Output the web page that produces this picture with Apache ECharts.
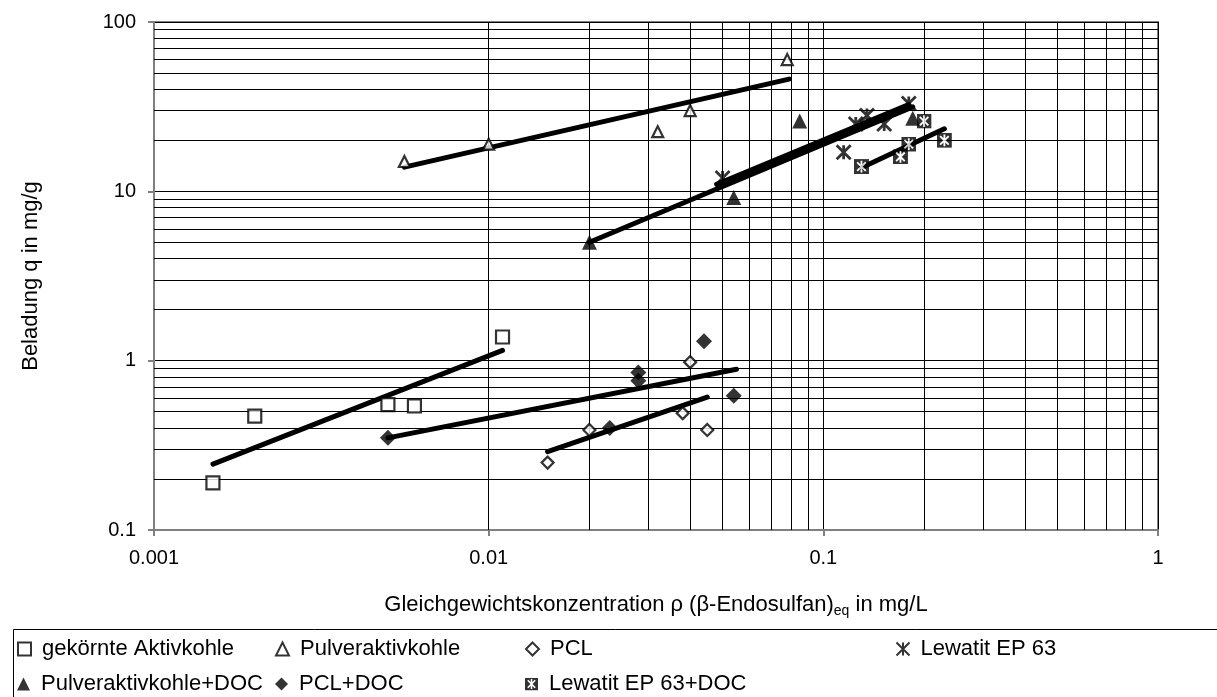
<!DOCTYPE html>
<html>
<head>
<meta charset="utf-8">
<script src="https://cdn.jsdelivr.net/npm/echarts@6/dist/echarts.min.js"></script>
<style>
  html, body { margin: 0; padding: 0; background: #fff; }
  #chart { width: 1217px; height: 697px; }
</style>
</head>
<body>
<div id="chart"></div>
<script>
// Adsorption isotherms of beta-endosulfan: measured points and power-law fits
const names = [
  'gekörnte Aktivkohle', 'Pulveraktivkohle', 'PCL', 'Lewatit EP 63',
  'Pulveraktivkohle+DOC', 'PCL+DOC', 'Lewatit EP 63+DOC'
];

// measured points (x: mg/L, y: mg/g)
const gakX = [0.0015, 0.002, 0.005, 0.006, 0.011];
const gakY = [0.19, 0.47, 0.55, 0.54, 1.38];
const pakX = [0.0056, 0.01, 0.032, 0.04, 0.078];
const pakY = [15, 19, 22.5, 30, 60];
const pclX = [0.015, 0.02, 0.038, 0.04, 0.045];
const pclY = [0.25, 0.39, 0.49, 0.98, 0.39];
const lewX = [0.05, 0.115, 0.125, 0.135, 0.152, 0.18];
const lewY = [12, 17, 25, 28, 25, 33];
const pakDocX = [0.02, 0.054, 0.085, 0.185];
const pakDocY = [5, 9.2, 26, 27];
const pclDocX = [0.005, 0.023, 0.028, 0.028, 0.044, 0.054];
const pclDocY = [0.35, 0.4, 0.85, 0.76, 1.3, 0.62];
const lewDocX = [0.13, 0.17, 0.18, 0.2, 0.23];
const lewDocY = [14, 16, 19, 26, 20];

// fitted isotherm lines, start and end values
const gakFitX = [0.0015, 0.011];   const gakFitY = [0.245, 1.15];
const pakFitX = [0.0056, 0.079];   const pakFitY = [13.9, 46];
const pclFitX = [0.015, 0.045];    const pclFitY = [0.29, 0.61];
const lewFitX = [0.048, 0.18];     const lewFitY = [11, 32.5];
const pakDocFitX = [0.02, 0.185];  const pakDocFitY = [5, 31.5];
const pclDocFitX = [0.005, 0.055]; const pclDocFitY = [0.35, 0.89];
const lewDocFitX = [0.13, 0.23];   const lewDocFitY = [13.8, 23.4];

// intermediate grid values within each decade
const xMinorGrid = [];
const yMinorGrid = [];
[0.001, 0.01, 0.1].forEach(d => { for (let k = 2; k <= 9; k++) xMinorGrid.push(+(d * k).toPrecision(3)); });
[0.1, 1, 10].forEach(d => { for (let k = 2; k <= 9; k++) yMinorGrid.push(+(d * k).toPrecision(3)); });

const zip = (xs, ys) => xs.map((x, i) => [x, ys[i]]);
const FONT = '"Liberation Sans", Arial, sans-serif';

const starPath = 'path://M0,0L10,10M10,0L0,10M5,0L5,10';
const boxStarSvg = "<svg xmlns='http://www.w3.org/2000/svg' width='14' height='14' viewBox='0 0 14 14'>" +
  "<rect x='0' y='0' width='14' height='14' fill='black'/>" +
  "<path d='M3,3L11,11M11,3L3,11M7,1.5L7,12.5' stroke='white' stroke-width='1.7' fill='none'/></svg>";
const boxStar = 'image://data:image/svg+xml;charset=utf-8,' + encodeURIComponent(boxStarSvg);

const open = { color: '#fff', borderColor: '#000', borderWidth: 2.2 };
const filled = { color: '#000', borderColor: '#000', borderWidth: 0 };

function pointSeries(name, xs, ys, symbol, size, style) {
  return {
    name, type: 'scatter', data: zip(xs, ys), symbol, symbolSize: size,
    itemStyle: style, z: 5, silent: true
  };
}
function fitSeries(xs, ys) {
  return {
    type: 'line', data: zip(xs, ys), showSymbol: false, symbol: 'none',
    lineStyle: { color: '#000', width: 5, cap: 'round' }, z: 3, silent: true
  };
}

const legendCols = [17, 275, 525, 894];
const legendRows = [637, 672];
const legendSlots = [
  [0, 0], [1, 0], [2, 0], [3, 0],
  [0, 1], [1, 1], [2, 1]
];
const legends = names.map((n, i) => ({
  data: [n],
  left: legendCols[legendSlots[i][0]],
  top: legendRows[legendSlots[i][1]],
  itemWidth: 13, itemHeight: 13,
  selectedMode: false,
  padding: 0,
  textStyle: { fontFamily: FONT, fontSize: 22, color: '#000', padding: [0, 0, 0, 6], lineHeight: 24 }
}));

const chart = echarts.init(document.getElementById('chart'), null, { renderer: 'canvas' });
chart.setOption({
  animation: false,
  backgroundColor: '#fff',
  grid: {
    left: 154, right: 59, top: 22, bottom: 167,
    show: true, borderColor: '#808080', borderWidth: 2, backgroundColor: '#fff'
  },
  legend: legends,
  graphic: [{
    type: 'rect', left: 11, top: 627, silent: true,
    shape: { width: 1230, height: 90 },
    style: { fill: 'none', stroke: '#000', lineWidth: 1 }
  }],
  xAxis: {
    type: 'log', logBase: 10, min: 0.001, max: 1,
    name: '{t|Gleichgewichtskonzentration ρ (β-Endosulfan)}{s|eq}{t| in mg/L}',
    nameLocation: 'middle', nameGap: 62,
    nameTextStyle: {
      rich: {
        t: { fontFamily: FONT, fontSize: 22, color: '#000', lineHeight: 26 },
        s: { fontFamily: FONT, fontSize: 14, color: '#000', lineHeight: 8, verticalAlign: 'bottom' }
      }
    },
    axisLine: { lineStyle: { color: '#808080', width: 2 } },
    axisTick: { show: true, inside: false, length: 6, lineStyle: { color: '#808080', width: 2 } },
    axisLabel: {
      fontFamily: FONT, fontSize: 20, color: '#000', margin: 18,
      formatter: v => String(+(+v).toPrecision(6))
    },
    splitLine: { show: true, lineStyle: { color: '#000', width: 1 } }
  },
  yAxis: {
    type: 'log', logBase: 10, min: 0.1, max: 100,
    name: 'Beladung q in mg/g',
    nameLocation: 'middle', nameGap: 112, nameRotate: 90,
    nameTextStyle: { fontFamily: FONT, fontSize: 22, color: '#000' },
    axisLine: { lineStyle: { color: '#808080', width: 2 } },
    axisTick: { show: true, inside: false, length: 6, lineStyle: { color: '#808080', width: 2 } },
    axisLabel: {
      fontFamily: FONT, fontSize: 20, color: '#000', margin: 18,
      formatter: v => String(+(+v).toPrecision(6))
    },
    splitLine: { show: true, lineStyle: { color: '#000', width: 1 } }
  },
  series: [
    {
      type: 'line', data: [], z: 1, silent: true,
      markLine: {
        silent: true, symbol: ['none', 'none'], animation: false,
        label: { show: false },
        lineStyle: { color: '#000', width: 1, type: 'solid' },
        emphasis: { disabled: true },
        data: xMinorGrid.map(v => ({ xAxis: v })).concat(yMinorGrid.map(v => ({ yAxis: v })))
      }
    },
    fitSeries(gakFitX, gakFitY),
    fitSeries(pakFitX, pakFitY),
    fitSeries(pclFitX, pclFitY),
    fitSeries(lewFitX, lewFitY),
    fitSeries(pakDocFitX, pakDocFitY),
    fitSeries(pclDocFitX, pclDocFitY),
    fitSeries(lewDocFitX, lewDocFitY),
    pointSeries(names[0], gakX, gakY, 'rect', 13, open),
    pointSeries(names[1], pakX, pakY, 'triangle', 11, open),
    pointSeries(names[2], pclX, pclY, 'diamond', 12, open),
    pointSeries(names[3], lewX, lewY, starPath, 14, { color: 'none', borderColor: '#000', borderWidth: 2.8 }),
    pointSeries(names[4], pakDocX, pakDocY, 'triangle', 15, filled),
    pointSeries(names[5], pclDocX, pclDocY, 'diamond', 16, filled),
    pointSeries(names[6], lewDocX, lewDocY, boxStar, 15, filled)
  ]
});
</script>
</body>
</html>
